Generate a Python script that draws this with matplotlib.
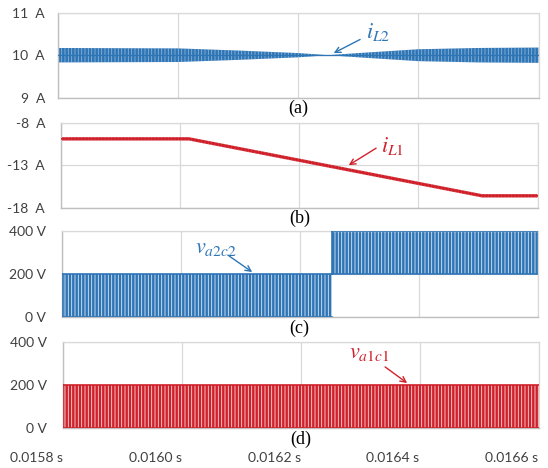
import numpy as np
import matplotlib
matplotlib.use('Agg')
import matplotlib.pyplot as plt

plt.rcParams['hatch.linewidth'] = 0.6
plt.rcParams['mathtext.fontset'] = 'stix'

# ---------------- data ----------------
t_range = [0.0158, 0.0166]
x_ticks = [0.0158, 0.0160, 0.0162, 0.0164, 0.0166]
x_tick_labels = ['0.0158 s', '0.0160 s', '0.0162 s', '0.0164 s', '0.0166 s']

# (a) iL2: mean level and ripple half-amplitude envelope
iL2_t = [0.0158, 0.0160, 0.0161, 0.0162, 0.01625, 0.0163, 0.0164, 0.0165, 0.0166]
iL2_mean = [10.0, 10.0, 10.0, 10.0, 10.0, 10.0, 10.0, 10.0, 10.0]
iL2_amp = [0.17, 0.16, 0.11, 0.05, 0.0, 0.05, 0.14, 0.17, 0.18]
iL2_yticks = [9, 10, 11]
iL2_ylabels = ['9  A', '10  A', '11  A']

# (b) iL1: mean trajectory and ripple half-amplitude
iL1_t = [0.0158, 0.016015, 0.016507, 0.0166]
iL1_mean = [-9.9, -9.9, -16.6, -16.6]
iL1_amp = [0.2, 0.2, 0.2, 0.2]
iL1_yticks = [-18, -13, -8]
iL1_ylabels = ['-18  A', '-13  A', '-8  A']

# (c) va2c2: PWM segments (start, end, low level, high level)
va2c2_t0 = [0.0158, 0.016255]
va2c2_t1 = [0.016255, 0.0166]
va2c2_lo = [0, 200]
va2c2_hi = [200, 400]

# (d) va1c1: PWM segments
va1c1_t0 = [0.0158]
va1c1_t1 = [0.0166]
va1c1_lo = [0]
va1c1_hi = [200]

v_yticks = [0, 200, 400]
v_ylabels = ['0 V', '200 V', '400 V']

BLUE = '#2e75b6'
RED = '#d0212b'
GRID = '#d9d9d9'
TICKC = '#404040'

W, H = 548, 468
fig = plt.figure(figsize=(W / 100, H / 100), dpi=100)

def make_ax(left, right, top, bottom):
    return fig.add_axes([left / W, 1 - bottom / H, (right - left) / W, (bottom - top) / H])

axa = make_ax(58, 538.5, 12.7, 97.7)
axb = make_ax(61, 537.5, 122.7, 207.7)
axc = make_ax(62, 537.5, 231, 317)
axd = make_ax(63, 538.5, 342, 428)

tick_font = dict(family='Lato', size=10, color=TICKC)

def style(ax, yticks, ylabels, pad):
    ax.set_xlim(t_range)
    ax.set_ylim(yticks[0], yticks[-1])
    ax.set_xticks(x_ticks)
    ax.set_xticklabels([])
    ax.set_yticks(yticks)
    ax.set_yticklabels(ylabels, fontdict=tick_font)
    ax.tick_params(length=0, pad=pad)
    ax.grid(True, color=GRID, lw=0.9, zorder=0)
    ax.set_axisbelow(True)
    for s in ['top', 'right']:
        ax.spines[s].set_color(GRID)
        ax.spines[s].set_linewidth(0.9)
    for s in ['left', 'bottom']:
        ax.spines[s].set_color('#bfbfbf')
        ax.spines[s].set_linewidth(1.0)

style(axa, iL2_yticks, iL2_ylabels, 9.4)
style(axb, iL1_yticks, iL1_ylabels, 11.5)
style(axc, v_yticks, v_ylabels, 11.5)
style(axd, v_yticks, v_ylabels, 11.5)

# (a) iL2 ripple band
m = np.array(iL2_mean)
a = np.array(iL2_amp)
axa.fill_between(iL2_t, m - a, m + a, facecolor=BLUE, edgecolor=(1, 1, 1, 0.45),
                 hatch='|||||', lw=0, zorder=2)
axa.plot(iL2_t, iL2_mean, color=BLUE, lw=0.9, zorder=3)

# (b) iL1 ripple band
m = np.array(iL1_mean)
a = np.array(iL1_amp)
axb.fill_between(iL1_t, m - a, m + a, facecolor=RED, edgecolor=(1, 1, 1, 0.35),
                 hatch='|||||', lw=0, zorder=2)
axb.plot(iL1_t, iL1_mean, color=RED, lw=1.2, zorder=3)

# PWM blocks
def pwm(ax, t0s, t1s, los, his, color):
    for t0, t1, lo, hi in zip(t0s, t1s, los, his):
        ax.fill_between([t0, t1], [lo, lo], [hi, hi], facecolor=color,
                        edgecolor=(1, 1, 1, 0.85), hatch='|||||', lw=0, zorder=2)
        ax.plot([t0, t1], [lo, lo], color=color, lw=1.2, zorder=3)
        ax.plot([t0, t1], [hi, hi], color=color, lw=1.2, zorder=3)
        ax.plot([t0, t0], [lo, hi], color=color, lw=1.2, zorder=3)

pwm(axc, va2c2_t0, va2c2_t1, va2c2_lo, va2c2_hi, BLUE)
pwm(axd, va1c1_t0, va1c1_t1, va1c1_lo, va1c1_hi, RED)

# x tick labels on the bottom panel (right-aligned at grid lines)
axd.set_xticklabels(x_tick_labels, fontdict=tick_font, ha='right')
axd.tick_params(axis='x', pad=17)

# panel letters
for ax, lab in zip([axa, axb, axc, axd], ['(a)', '(b)', '(c)', '(d)']):
    ax.text(0.5, -0.13, lab, transform=ax.transAxes, ha='center', va='center',
            family='Liberation Serif', fontsize=13)

arrow = lambda c: dict(arrowstyle='->', color=c, lw=1.0, shrinkA=0, shrinkB=0,
                       mutation_scale=10)

axa.annotate(r'$\mathit{i}_{\mathit{L2}}$', xy=(0.016259, 10.05), xytext=(0.016312, 10.4),
             color=BLUE, fontsize=16, ha='left', va='baseline')
axa.annotate('', xy=(0.016259, 10.05), xytext=(0.016303, 10.37), arrowprops=arrow(BLUE))

axb.annotate(r'$\mathit{i}_{\mathit{L1}}$', xy=(0.016283, -13.0), xytext=(0.016337, -11.45),
             color=RED, fontsize=16, ha='left', va='baseline')
axb.annotate('', xy=(0.016283, -13.0), xytext=(0.016329, -11.0), arrowprops=arrow(RED))

axc.annotate(r'$\mathit{v}_{\mathit{a2c2}}$', xy=(0.01612, 209), xytext=(0.016023, 298),
             color=BLUE, fontsize=16, ha='left', va='baseline')
axc.annotate('', xy=(0.01612, 209), xytext=(0.016079, 288), arrowprops=arrow(BLUE))

axd.annotate(r'$\mathit{v}_{\mathit{a1c1}}$', xy=(0.016379, 209), xytext=(0.016282, 325),
             color=RED, fontsize=16, ha='left', va='baseline')
axd.annotate('', xy=(0.016379, 209), xytext=(0.016342, 284), arrowprops=arrow(RED))

fig.savefig('out.png', dpi=100)
